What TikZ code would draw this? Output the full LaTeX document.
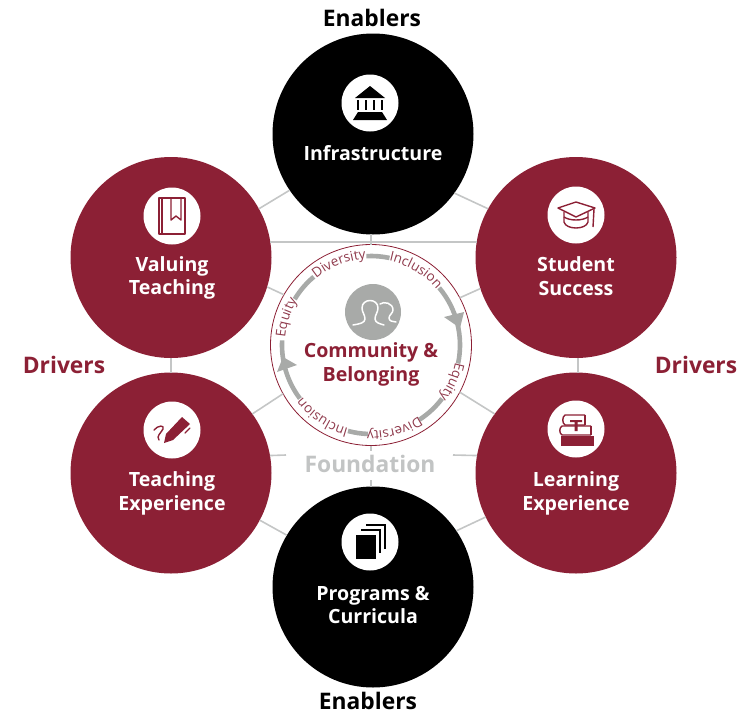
\documentclass[tikz,border=0pt]{standalone}
\usepackage{fontspec}
\setmainfont{Open Sans}
\usetikzlibrary{decorations.text}
\definecolor{crim}{HTML}{8C2035}
\definecolor{ringtxt}{HTML}{8F3A4C}
\definecolor{conn}{HTML}{C4C6C6}
\definecolor{arcgray}{HTML}{A8AAA8}
\definecolor{found}{HTML}{C2C4C4}
\tikzset{
  big/.style={circle,fill=#1,minimum size=201pt,inner sep=0pt,outer sep=0pt},
  badge/.style={circle,fill=white,minimum size=57pt,inner sep=0pt,outer sep=0pt},
  lab/.style={text=white,font=\fontsize{19.6}{23.5}\selectfont\bfseries,align=center,inner sep=0pt},
  head/.style={font=\fontsize{22.8}{24}\selectfont\bfseries,inner sep=0pt},
  link/.style={draw=conn,line width=1.6pt},
  garc/.style={draw=arcgray,line width=4.6pt},
  word/.style={decorate,decoration={text along path,text align=center,text={|\fontsize{13.5}{14}\selectfont\color{ringtxt}|#1}}},
  ico/.style={line width=1.4pt,line join=round},
}
\begin{document}
\begin{tikzpicture}[x=1pt,y=-1pt]
\useasboundingbox (0,0) rectangle (755,712);
% big circles
\node[big=black] (top) at (373,134) {};
\node[big=crim] (ul) at (171,257.5) {};
\node[big=crim] (ur) at (576,257.5) {};
\node[big=crim] (ll) at (171,473) {};
\node[big=crim] (lr) at (576,473) {};
\node[big=black] (bot) at (373,587) {};
\node[circle,draw=crim,line width=0.8pt,minimum size=201pt,inner sep=0pt,outer sep=0pt] (ring) at (371,345) {};
% free ends
\coordinate (topfoot) at (371,234);
\coordinate (llstub) at (286,455);
\coordinate (lrstub) at (453,455);
\coordinate (fdn1) at (371,451);
\coordinate (fdn2) at (371,480);
\coordinate (botcap) at (371,487);
% connectors
\draw[link] (top.214) -- (ul.29);
\draw[link] (top.-36) -- (ur.151);
\draw[link] (bot.149) -- (ll.-28);
\draw[link] (bot.34) -- (lr.206);
\draw[link] (ul.south) -- (ll.north);
\draw[link] ([xshift=2pt]ur.south) -- ([xshift=2pt]lr.north);
\draw[link] (ul.9) -- (ur.171);
\draw[link] (topfoot) -- (ring.north);
\draw[link] (ring.150) -- (ul.-17);
\draw[link] (ring.28) -- (ur.198);
\draw[link] (ring.209) -- (ll.36.5);
\draw[link] (ring.-28) -- (lr.144);
\draw[link] (ll.10) -- (llstub);
\draw[link] (lr.170) -- (lrstub);
\draw[link] (ring.south) -- (fdn1);
\draw[link] (fdn2) -- (botcap);
% ring content
\begin{scope}[shift={(371,345)},y=1pt]
\foreach \a/\b in {217/177,149/130,93/78,40/-12,-37/-57,-92/-105}
  \draw[garc] (\a:89) arc (\a:\b:89);
\path[word=Equity] (197:86) arc (197:127:86);
\path[word=Diversity] (151.5:86) arc (151.5:71.5:86);
\path[word=Inclusion] (99:86) arc (99:19:86);
\path[word=Equity] (10.5:86) arc (10.5:-59.5:86);
\path[word=Diversity] (-34.5:86) arc (-34.5:-114.5:86);
\path[word=Inclusion] (-84:86) arc (-84:-164:86);
\end{scope}
% arrowheads on the ring
\fill[arcgray] (444,317) -- (464,312) -- (460,328) -- cycle;
\fill[arcgray] (277,372) -- (297,365) -- (283,357) -- cycle;
% badges
\node[badge] (b1) at (370,103) {};
\node[badge] (b2) at (172,216) {};
\node[badge] (b3) at (576,215) {};
\node[badge] (b4) at (576,429) {};
\node[badge] (b5) at (172,430) {};
\node[badge] (b6) at (370,542) {};
\node[circle,fill=arcgray,minimum size=56pt,inner sep=0pt] (b7) at (373,312) {};
% bank
\begin{scope}[shift={(b1.center)}]
\fill (0,-17) -- (15,-5) -- (-15,-5) -- cycle;
\foreach \x in {-12,-4,4,12} \fill (\x-1.2,-3) rectangle (\x+1.2,7);
\fill (-12,9) -- (12,9) -- (17,17) -- (-17,17) -- cycle;
\end{scope}
% book
\begin{scope}[shift={(b2.center)},crim,ico]
\draw[line width=1.8pt] (-13,-18) rectangle (13,18);
\draw (-1,-18) -- (-1,4) -- (4,0) -- (9,4) -- (9,-18);
\draw (-10,-18) -- (-10,18);
\end{scope}
% cap
\begin{scope}[shift={(b3.center)},crim,ico]
\draw (-18,-7) -- (0,-13) -- (19,-7) -- (0,2) -- cycle;
\draw (-12,-3) -- (-12,7) .. controls (-10,15) and (10,15) .. (12,7) -- (12,-3);
\draw (-12,2) .. controls (-6,6) and (6,6) .. (12,2);
\draw (18,-6) -- (17,12);
\end{scope}
% stack of books
\begin{scope}[shift={(b4.center)},crim,ico]
\draw (9,-14) -- (-11,-14) .. controls (-14,-12) and (-14,-6) .. (-11,-4) -- (9,-4);
\draw (15,-3) -- (-14,-3) .. controls (-17,-1) and (-17,4) .. (-14,6) -- (15,6);
\draw (9,-14) -- (9,-4) (15,-3) -- (15,6);
\fill (-15,7) -- (18,7) -- (18,17) -- (-15,17) -- cycle;
\fill (-6,-9) -- (6,-9) -- (6,-7) -- (1.5,-7) -- (1.5,2) -- (-1.5,2) -- (-1.5,-7) -- (-6,-7) -- cycle;
\end{scope}
% pen
\begin{scope}[shift={(b5.center)},crim,ico]
\fill (-8,13) -- (-6,4) -- (10,-13) -- (18,-6) -- (1,10) -- cycle;
\draw[line cap=round] (-18,0) .. controls (-14,-5) and (-7,-5) .. (-9,-1) .. controls (-11,3) and (-16,6) .. (-13,10);
\draw[line cap=round] (13,3) -- (18,-2);
\end{scope}
% documents
\begin{scope}[shift={(b6.center)}]
\fill (-14,-7) rectangle (6,17);
\draw[line width=1.5pt] (-9,-12) -- (10,-12) -- (10,11);
\draw[line width=1.5pt] (-4,-17) -- (15,-17) -- (15,7);
\end{scope}
% people
\begin{scope}[shift={(b7.center)},white,line width=1.5pt,line cap=round,line join=round]
\draw (-20,13) .. controls (-14,12) and (-8,11) .. (-8,7) .. controls (-8,3) and (-11,0) .. (-11,-4) .. controls (-11,-14) and (5,-14) .. (5,-4) .. controls (5,0) and (2,3) .. (2,7) .. controls (2,11) and (8,12) .. (11,13);
\draw (7,-8) .. controls (11,-11) and (20,-9) .. (20,-2) .. controls (20,1) and (16,3) .. (16,6) .. controls (16,9) and (20,10) .. (23,10);
\end{scope}
% labels
\node[lab] (t1) at (373,153) {Infrastructure};
\node[lab] (t2) at (172,278) {Valuing\\Teaching};
\node[lab] (t3) at (576,276) {Student\\Success};
\node[lab] (t4) at (576,493.5) {Learning\\Experience};
\node[lab] (t5) at (172,493.5) {Teaching\\Experience};
\node[lab] (t6) at (373,605) {Programs \&\\Curricula};
\node[lab,text=crim] (t7) at (371,364.5) {Community \&\\Belonging};
\node[head,text=found] (f) at (370,464) {Foundation};
\node[head] (e1) at (372,18) {Enablers};
\node[head] (e2) at (368,700.5) {Enablers};
\node[head,text=crim] (d1) at (64,365) {Drivers};
\node[head,text=crim] (d2) at (696,365) {Drivers};
\end{tikzpicture}
\end{document}
